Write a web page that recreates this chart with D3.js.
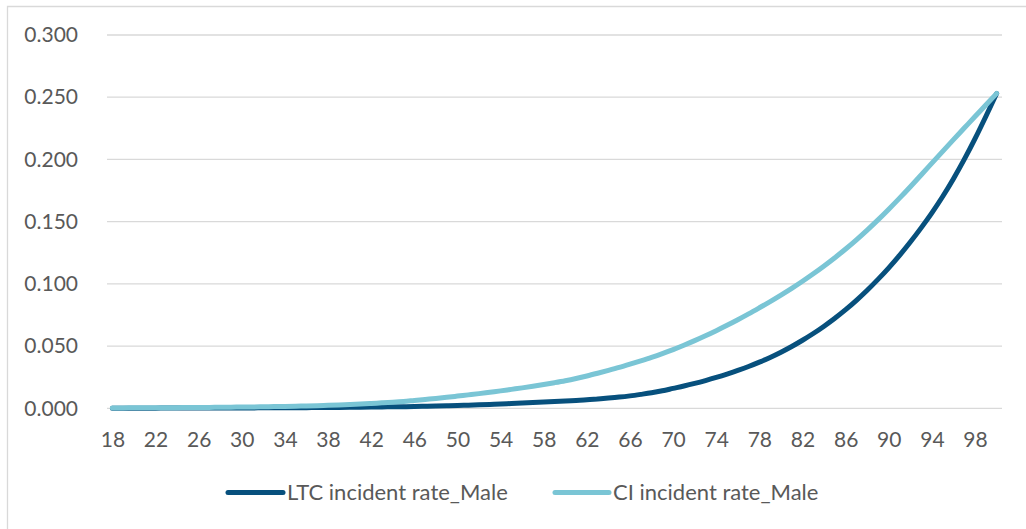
<!DOCTYPE html>
<html>
<head>
<meta charset="utf-8">
<script src="https://cdn.jsdelivr.net/npm/d3@7"></script>
<style>
  html, body { margin: 0; padding: 0; background: #ffffff; }
  svg { display: block; }
  text { font-family: Lato, "Open Sans", sans-serif; fill: #595959; }
</style>
</head>
<body>
<svg id="chart" width="1026" height="529"></svg>
<script>
// Ages 18..100
const ages = d3.range(18, 101);

// Long-term care incidence rate, male
const ltcMale = [
  0.0001, 0.0001, 0.0001, 0.0001, 0.0001, 0.0002, 0.0002, 0.0002, 0.0002, 0.0002,
  0.0003, 0.0003, 0.0003, 0.0003, 0.0004, 0.0004, 0.0004, 0.0005, 0.0005, 0.0006,
  0.0006, 0.0007, 0.0008, 0.0009, 0.0010, 0.0011, 0.0012, 0.0013, 0.0015, 0.0016,
  0.0018, 0.0020, 0.0022, 0.0025, 0.0028, 0.0031, 0.0035, 0.0038, 0.0042, 0.0046,
  0.0050, 0.0054, 0.0058, 0.0063, 0.0068, 0.0075, 0.0082, 0.0090, 0.0100, 0.0112,
  0.0125, 0.0141, 0.0160, 0.0179, 0.0200, 0.0223, 0.0248, 0.0275, 0.0304, 0.0336,
  0.0371, 0.0409, 0.0451, 0.0497, 0.0547, 0.0601, 0.0660, 0.0724, 0.0793, 0.0868,
  0.0949, 0.1036, 0.1129, 0.1229, 0.1336, 0.1450, 0.1571, 0.1702, 0.1845, 0.2000,
  0.2167, 0.2345, 0.2530
];

// Critical illness incidence rate, male
const ciMale = [
  0.0003, 0.0003, 0.0004, 0.0004, 0.0004, 0.0005, 0.0005, 0.0006, 0.0006, 0.0007,
  0.0008, 0.0009, 0.0010, 0.0011, 0.0012, 0.0014, 0.0015, 0.0017, 0.0019, 0.0021,
  0.0024, 0.0027, 0.0030, 0.0034, 0.0039, 0.0044, 0.0049, 0.0055, 0.0063, 0.0071,
  0.0079, 0.0088, 0.0098, 0.0108, 0.0118, 0.0129, 0.0140, 0.0152, 0.0164, 0.0177,
  0.0191, 0.0206, 0.0222, 0.0240, 0.0260, 0.0282, 0.0305, 0.0329, 0.0355, 0.0382,
  0.0410, 0.0440, 0.0472, 0.0507, 0.0544, 0.0583, 0.0624, 0.0667, 0.0712, 0.0759,
  0.0808, 0.0858, 0.0910, 0.0964, 0.1021, 0.1081, 0.1144, 0.1210, 0.1280, 0.1354,
  0.1432, 0.1514, 0.1600, 0.1689, 0.1781, 0.1875, 0.1970, 0.2065, 0.2159, 0.2252,
  0.2345, 0.2437, 0.2530
];

const yTicks = [0, 0.05, 0.10, 0.15, 0.20, 0.25, 0.30];
const xTickAges = d3.range(18, 99, 4);

const seriesNames = ["LTC incident rate_Male", "CI incident rate_Male"];
const seriesColors = ["#07507d", "#7ac5d5"];

const tickFont = 21;
const legendFont = 22;

const svg = d3.select("#chart");

// Chart frame
svg.append("path")
  .attr("d", "M7.5,529 L7.5,6.5 L1026,6.5")
  .attr("fill", "none")
  .attr("stroke", "#d9d9d9")
  .attr("stroke-width", 1.3);

const plot = { left: 107, right: 1002, top: 35, bottom: 408.3 };

const x = d3.scalePoint()
  .domain(ages)
  .range([plot.left, plot.right])
  .padding(0.5);

const y = d3.scaleLinear()
  .domain([0, 0.3])
  .range([plot.bottom, plot.top]);

// Horizontal gridlines
svg.append("g")
  .selectAll("line")
  .data(yTicks)
  .join("line")
  .attr("x1", plot.left)
  .attr("x2", plot.right)
  .attr("y1", d => y(d))
  .attr("y2", d => y(d))
  .attr("stroke", "#d9d9d9")
  .attr("stroke-width", 1.3);

// Y axis labels
const yAxis = d3.axisLeft(y)
  .tickValues(yTicks)
  .tickFormat(d3.format(".3f"))
  .tickSize(0)
  .tickPadding(0);

svg.append("g")
  .attr("transform", "translate(78,0)")
  .call(yAxis)
  .call(g => g.select(".domain").remove())
  .call(g => g.selectAll("text")
    .attr("font-family", "Lato, sans-serif")
    .attr("font-size", tickFont)
    .attr("fill", "#595959"));

// X axis labels
const xAxis = d3.axisBottom(x)
  .tickValues(xTickAges)
  .tickSize(0)
  .tickPadding(0);

svg.append("g")
  .attr("transform", `translate(0,${447 - 0.71 * tickFont})`)
  .call(xAxis)
  .call(g => g.select(".domain").remove())
  .call(g => g.selectAll("text")
    .attr("font-family", "Lato, sans-serif")
    .attr("font-size", tickFont)
    .attr("fill", "#595959"));

// Series lines
const line = d3.line()
  .x((d, i) => x(ages[i]))
  .y(d => y(d))
  .curve(d3.curveMonotoneX);

[ltcMale, ciMale].forEach((values, k) => {
  svg.append("path")
    .datum(values)
    .attr("d", line)
    .attr("fill", "none")
    .attr("stroke", seriesColors[k])
    .attr("stroke-width", 5)
    .attr("stroke-linecap", "round")
    .attr("stroke-linejoin", "round");
});

// Legend
const legendItems = [
  { x1: 228, x2: 283, tx: 287 },
  { x1: 555, x2: 609, tx: 613 }
];
const legendY = 492.5;
const legend = svg.append("g");
legendItems.forEach((it, k) => {
  legend.append("line")
    .attr("x1", it.x1).attr("x2", it.x2)
    .attr("y1", legendY).attr("y2", legendY)
    .attr("stroke", seriesColors[k])
    .attr("stroke-width", 5)
    .attr("stroke-linecap", "round");
  legend.append("text")
    .attr("x", it.tx)
    .attr("y", legendY)
    .attr("dy", "0.35em")
    .attr("font-size", legendFont)
    .text(seriesNames[k]);
});
</script>
</body>
</html>
